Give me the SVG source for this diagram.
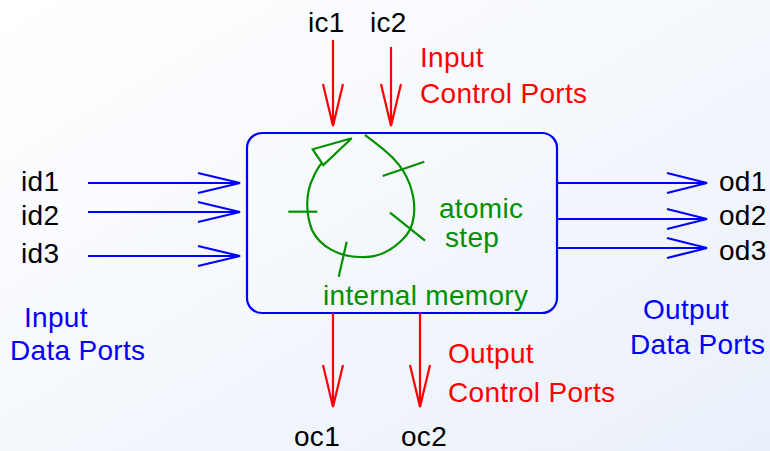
<svg xmlns="http://www.w3.org/2000/svg" width="770" height="451" viewBox="0 0 770 451">
<defs>
<linearGradient id="bg" x1="0" y1="0" x2="1" y2="1">
<stop offset="0" stop-color="#ffffff"/>
<stop offset="1" stop-color="#eaf0fa"/>
</linearGradient>
<style>
text{font-family:"Liberation Sans",Arial,sans-serif;font-size:28px;letter-spacing:0.3px}
.k{fill:#000}
.r{fill:#ff0000}
.b{fill:#0000ff}
.g{fill:#009000}
.lb{stroke:#0000ff;stroke-width:2.2;fill:none}
.lr{stroke:#ff0000;stroke-width:2.2;fill:none}
.lg{stroke:#009000;stroke-width:2.2;fill:none}
</style>
</defs>
<rect width="770" height="451" fill="url(#bg)"/>
<g id="block">
<rect x="247" y="133" width="310" height="180" rx="15" ry="15" class="lb"/>
<path class="lg" d="M365,135 C385,150 402,162 410,185 C417,205 416,228 402,240 C390,252 375,258 360,257 C340,257 320,247 312,230 C305,212 306,192 313,178 C316,171 318,167 322,163"/>
<polygon points="351.7,138.3 312.7,149.3 323.3,165" fill="#ffffff" stroke="#009000" stroke-width="2.2"/>
<line class="lg" x1="382.7" y1="176" x2="424.3" y2="161.7"/>
<line class="lg" x1="288.3" y1="211.7" x2="317.3" y2="211.7"/>
<line class="lg" x1="390" y1="212.7" x2="425" y2="240.7"/>
<line class="lg" x1="346.7" y1="241.7" x2="338.7" y2="276.7"/>
<text x="439" y="218" class="g">atomic</text>
<text x="445" y="247" class="g">step</text>
<text x="323" y="305" class="g">internal memory</text>
</g>
<g id="connectors">
<path class="lr" d="M333,40 V126 M323,84 L333,126 L343,84"/>
<path class="lr" d="M391,47 V126 M381,84 L391,126 L401,84"/>
<path class="lr" d="M333,313 V407 M323,365 L333,407 L343,365"/>
<path class="lr" d="M420,313 V407 M410,365 L420,407 L430,365"/>
<path class="lb" d="M88,183 H240 M198,173 L240,183 L198,193"/>
<path class="lb" d="M88,212 H240 M198,202 L240,212 L198,222"/>
<path class="lb" d="M88,256 H240 M198,246 L240,256 L198,266"/>
<path class="lb" d="M557,183 H707 M667,173 L707,183 L667,193"/>
<path class="lb" d="M557,219 H707 M667,209 L707,219 L667,229"/>
<path class="lb" d="M557,248 H707 M667,238 L707,248 L667,258"/>
</g>
<g id="labels">
<text x="308" y="32" class="k">ic1</text>
<text x="370" y="32" class="k">ic2</text>
<text x="420" y="67" class="r">Input</text>
<text x="420" y="103" class="r">Control Ports</text>
<text x="21" y="191" class="k">id1</text>
<text x="21" y="225" class="k">id2</text>
<text x="21" y="263" class="k">id3</text>
<text x="719" y="191" class="k">od1</text>
<text x="719" y="225" class="k">od2</text>
<text x="719" y="260" class="k">od3</text>
<text x="24" y="327" class="b">Input</text>
<text x="10" y="360" class="b">Data Ports</text>
<text x="643" y="319" class="b">Output</text>
<text x="630" y="354" class="b">Data Ports</text>
<text x="448" y="363" class="r">Output</text>
<text x="448" y="402" class="r">Control Ports</text>
<text x="294" y="446" class="k">oc1</text>
<text x="401" y="446" class="k">oc2</text>
</g>
</svg>
